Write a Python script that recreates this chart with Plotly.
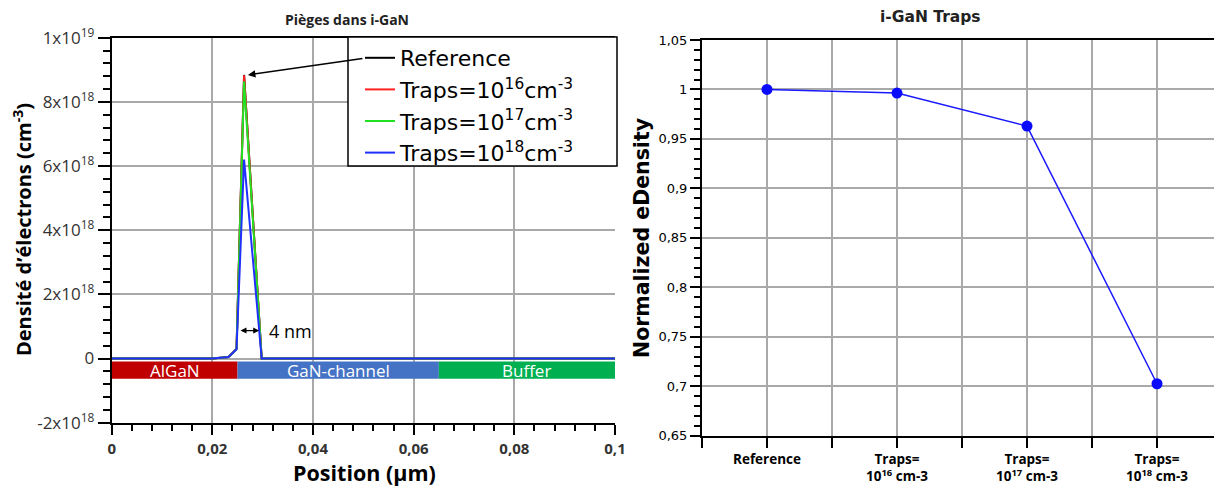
import plotly.graph_objects as go

# The page body keeps an 8px margin, so the figure is drawn 8px in from the corner.
OFF = 8
W, H = 1222 - OFF, 488 - OFF


def px(x):
    return (x - OFF) / W


def py(y):
    return 1 - (y - OFF) / H


# ---------------- Left chart data ----------------
position_um = [0.0, 0.01, 0.02, 0.0232, 0.0248, 0.0263, 0.0298, 0.04, 0.06, 0.08, 0.1]
dens_reference = [0, 0, 0, 0.05e18, 0.30e18, 8.84e18, 0, 0, 0, 0, 0]
dens_traps16 = [0, 0, 0, 0.05e18, 0.30e18, 8.83e18, 0, 0, 0, 0, 0]
dens_traps17 = [0, 0, 0, 0.05e18, 0.29e18, 8.63e18, 0, 0, 0, 0, 0]
dens_traps18 = [0, 0, 0, 0.05e18, 0.29e18, 6.20e18, 0, 0, 0, 0, 0]

region_names = ["AlGaN", "GaN-channel", "Buffer"]
region_start = [0.0, 0.025, 0.065]
region_end = [0.025, 0.065, 0.1]
region_colors = ["#c00000", "#4472c4", "#00b050"]

left_xticks = [0, 0.02, 0.04, 0.06, 0.08, 0.1]
left_xticklabels = ["0", "0,02", "0,04", "0,06", "0,08", "0,1"]
left_yticks = [-2e18, 0, 2e18, 4e18, 6e18, 8e18, 1e19]
left_yticklabels = ["-2x10<sup>18</sup>", "0", "2x10<sup>18</sup>", "4x10<sup>18</sup>",
                    "6x10<sup>18</sup>", "8x10<sup>18</sup>", "1x10<sup>19</sup>"]

# ---------------- Right chart data ----------------
trap_categories = ["<b>Reference</b>",
                   "<b>Traps=</b><br><b>10<sup>16</sup> cm-3</b>",
                   "<b>Traps=</b><br><b>10<sup>17</sup> cm-3</b>",
                   "<b>Traps=</b><br><b>10<sup>18</sup> cm-3</b>"]
normalized_edensity = [1.0, 0.9963, 0.963, 0.7025]
right_yticks = [0.65, 0.7, 0.75, 0.8, 0.85, 0.9, 0.95, 1.0, 1.05]
right_yticklabels = ["0,65", "0,7", "0,75", "0,8", "0,85", "0,9", "0,95", "1", "1,05"]

GRID = "#a9a9a9"

fig = go.Figure()

# region bars (below the curves)
centers = [(s + e) / 2 for s, e in zip(region_start, region_end)]
widths = [e - s for s, e in zip(region_start, region_end)]
fig.add_trace(go.Bar(x=centers, y=[0.54e18] * 3, base=[-0.63e18] * 3, width=widths,
                     marker=dict(color=region_colors, line=dict(width=0)),
                     showlegend=False, hoverinfo="skip", xaxis="x", yaxis="y"))

line_sets = [("Reference", dens_reference, "#000000"),
             ("Traps=10<sup>16</sup>cm<sup>-3</sup>", dens_traps16, "#ff2020"),
             ("Traps=10<sup>17</sup>cm<sup>-3</sup>", dens_traps17, "#22e022"),
             ("Traps=10<sup>18</sup>cm<sup>-3</sup>", dens_traps18, "#2030ff")]
for name, ys, col in line_sets:
    fig.add_trace(go.Scatter(x=position_um, y=ys, mode="lines", name=name,
                             line=dict(color=col, width=2), xaxis="x", yaxis="y"))

fig.add_trace(go.Scatter(x=list(range(len(trap_categories))), y=normalized_edensity,
                         mode="lines+markers", showlegend=False,
                         line=dict(color="#1a1aff", width=1.5),
                         marker=dict(color="#0a0aff", size=11),
                         xaxis="x2", yaxis="y2"))

ax_common = dict(showline=True, linecolor="black", linewidth=2, zeroline=False,
                 gridcolor=GRID, gridwidth=1.5, ticks="outside", tickcolor="black",
                 tickwidth=1.5, automargin=False)

fig.update_layout(
    template="none",
    width=W, height=H,
    margin=dict(l=0, r=0, t=0, b=0, pad=0),
    paper_bgcolor="white", plot_bgcolor="white",
    font=dict(family="Open Sans", color="black"),
    barmode="overlay",
    xaxis=dict(domain=[px(111.7), px(615)], range=[0, 0.1], tickmode="array",
               tickvals=left_xticks, ticktext=["<b>%s</b>" % t for t in left_xticklabels],
               tickfont=dict(size=15, color="#333333"), ticklen=10, mirror=True,
               ticklabelstandoff=1,
               minor=dict(tickmode="linear", tick0=0, dtick=0.004, ticklen=6,
                          ticks="outside", tickcolor="black", showgrid=False),
               anchor="y", **ax_common),
    yaxis=dict(domain=[py(422.7), py(37.7)], range=[-2e18, 1e19], tickmode="array",
               tickvals=left_yticks, ticktext=left_yticklabels,
               tickfont=dict(size=17, color="#333333"), ticklen=12,
               minor=dict(tickmode="linear", tick0=0, dtick=4e17, ticklen=7,
                          ticks="outside", tickcolor="black", showgrid=False),
               anchor="x", **ax_common),
    xaxis2=dict(domain=[px(702), 1.0], range=[-0.5, 3.5], tickmode="array",
                tickvals=list(range(len(trap_categories))), ticktext=trap_categories,
                tickfont=dict(size=13.5, color="black"), ticklen=10, mirror=True,
                minor=dict(tickmode="array", tickvals=[-0.5, 0.5, 1.5, 2.5, 3.5],
                           ticklen=10, ticks="outside", tickcolor="black",
                           showgrid=True, gridcolor=GRID, gridwidth=1.5),
                anchor="y2", **ax_common),
    yaxis2=dict(domain=[py(435.7), py(40)], range=[0.65, 1.05], tickmode="array",
                tickvals=right_yticks, ticktext=right_yticklabels,
                tickfont=dict(family="DejaVu Sans", size=13, color="black"), ticklen=10,
                minor=dict(tickmode="linear", tick0=0.65, dtick=0.01, ticklen=6,
                           ticks="outside", tickcolor="black", showgrid=False),
                anchor="x2", **ax_common),
    legend=dict(x=px(360), y=py(37), xanchor="left", yanchor="top",
                bgcolor="rgba(0,0,0,0)", borderwidth=0,
                font=dict(family="DejaVu Sans", size=22, color="black"),
                tracegroupgap=0, itemwidth=30),
    showlegend=True,
)

# legend frame (white box with black border)
fig.add_shape(type="rect", xref="paper", yref="paper",
              x0=px(348), x1=px(617), y0=py(166), y1=py(37),
              fillcolor="white", line=dict(color="black", width=1.5), layer="above")

annotations = []
# region labels
for name, c in zip(region_names, centers):
    annotations.append(dict(x=c, y=-0.36e18, xref="x", yref="y", text=name, showarrow=False,
                            xanchor="center", yanchor="middle",
                            font=dict(family="Open Sans", size=17, color="white")))


def label(x, y, text, size, family="Open Sans", angle=0, color="black"):
    return dict(x=px(x), y=py(y), xref="paper", yref="paper", text=text, showarrow=False,
                xanchor="center", yanchor="middle", textangle=angle,
                font=dict(family=family, size=size, color=color))


# titles
annotations.append(label(347, 19, "<b>Pièges dans i-GaN</b>", 14, color="#222"))
annotations.append(label(930, 17, "<b>i-GaN Traps</b>", 15.5, family="DejaVu Sans", color="#222"))
# axis titles
annotations.append(label(22, 230, "<b>Densité d’électrons (cm<sup>-3</sup>)</b>", 20, angle=-90))
annotations.append(label(364, 472, "<b>Position (µm)</b>", 21.5))
annotations.append(label(642, 238, "<b>Normalized eDensity</b>", 20.5, family="DejaVu Sans",
                         angle=-90))
# 4 nm double arrow
annotations.append(dict(x=0.0293, y=0.87e18, ax=0.0253, ay=0.87e18, xref="x", yref="y",
                        axref="x", ayref="y", text="", showarrow=True, arrowhead=2,
                        arrowside="end+start", arrowsize=1, arrowwidth=1.2,
                        arrowcolor="black"))
annotations.append(dict(x=0.0355, y=0.87e18, xref="x", yref="y", text="4 nm",
                        showarrow=False, xanchor="center", yanchor="middle",
                        font=dict(family="Open Sans", size=18)))
# arrow from legend to peak
annotations.append(dict(x=0.02667, y=8.83e18, xref="x", yref="y", ax=118, ay=-17,
                        text="", showarrow=True, arrowhead=2, arrowsize=1, arrowwidth=1.5,
                        arrowcolor="black", standoff=2))
fig.update_layout(annotations=annotations)

fig.write_html("out.html")
